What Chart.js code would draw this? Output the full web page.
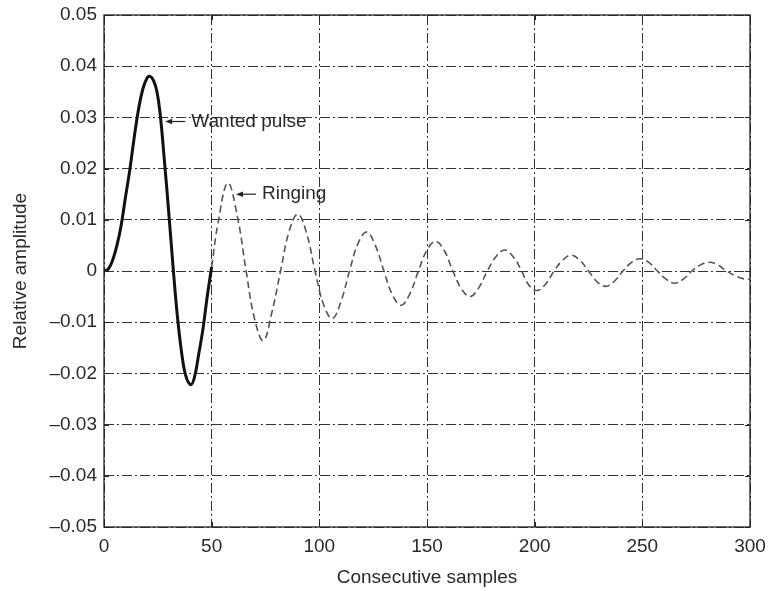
<!DOCTYPE html>
<html>
<head>
<meta charset="utf-8">
<script src="https://cdn.jsdelivr.net/npm/chart.js@4.4.1/dist/chart.umd.min.js"></script>
<style>
  html, body { margin: 0; padding: 0; background: #fff; }
  canvas { display: block; }
</style>
</head>
<body>
<canvas id="chart" width="769" height="591"></canvas>
<script>
// wanted pulse (solid), samples 0..50
const pulseX = [0, 2, 4, 6, 8, 10, 12, 14, 16, 18, 20, 21.4, 23, 24.5, 26, 28, 30, 32, 34, 36, 38, 40.3, 42, 44, 46, 48, 50];
const pulseY = [0, 0.0004, 0.0021, 0.005, 0.009, 0.0145, 0.0198, 0.026, 0.0315, 0.0355, 0.0377, 0.038, 0.0372, 0.0352, 0.031, 0.0218, 0.0118, 0.0012, -0.0085, -0.0158, -0.0205, -0.0222, -0.0208, -0.0162, -0.0112, -0.0048, 0.0008];

// ringing (dashed), samples 50..300
const ringX = [50, 53, 57.5, 62, 66, 70, 74, 78, 82, 86, 90, 94, 98, 102, 106, 110, 114, 118, 122, 126, 130, 134, 138, 142, 146, 150, 154, 158, 162, 166, 170, 174, 178, 182, 186, 190, 194, 197, 201, 205, 209, 213, 217, 221, 225, 229, 233, 237, 241, 245, 249, 253, 257, 261, 265, 269, 273, 277, 281, 285, 289, 294, 298, 300];
const ringY = [0.0008, 0.0095, 0.0172, 0.0105, 0, -0.0095, -0.0136, -0.008, 0, 0.0078, 0.0111, 0.0075, 0, -0.0066, -0.0093, -0.006, 0, 0.0054, 0.0076, 0.005, 0, -0.0047, -0.0067, -0.0045, 0, 0.0041, 0.0058, 0.004, 0, -0.0035, -0.005, -0.0033, 0, 0.0028, 0.0041, 0.0028, 0, -0.0026, -0.0038, -0.0026, 0, 0.0021, 0.0031, 0.0021, 0, -0.0021, -0.003, -0.002, 0, 0.0017, 0.0024, 0.0017, 0, -0.0016, -0.0024, -0.0016, 0, 0.0012, 0.0017, 0.0012, 0, -0.0011, -0.0016, -0.0016];

const xTicks = [0, 50, 100, 150, 200, 250, 300];
const yTicks = [-0.05, -0.04, -0.03, -0.02, -0.01, 0, 0.01, 0.02, 0.03, 0.04, 0.05];
const yTickLabels = ["\u20130.05", "\u20130.04", "\u20130.03", "\u20130.02", "\u20130.01", "0", "0.01", "0.02", "0.03", "0.04", "0.05"];

// annotations: arrow tip in data units
const notes = [
  { text: "Wanted pulse", x: 28.4, y: 0.0292, len: 20 },
  { text: "Ringing", x: 61.3, y: 0.0150, len: 20 }
];

const FONT = "'Liberation Sans', Arial, Helvetica, sans-serif";
const TEXT = "#2a2a2a";

const pts = (xs, ys) => xs.map((x, i) => ({ x: x, y: ys[i] }));

const frame = {
  id: "frame",
  afterDraw(chart) {
    const c = chart.ctx;
    const a = chart.chartArea;
    const xs = chart.scales.x, ys = chart.scales.y;
    c.save();
    c.strokeStyle = "#222";
    c.lineWidth = 1.3;
    c.setLineDash([]);
    c.strokeRect(a.left, a.top, a.right - a.left, a.bottom - a.top);
    c.lineWidth = 1;
    c.beginPath();
    xTicks.forEach(v => {
      const px = Math.round(xs.getPixelForValue(v)) + 0.5;
      c.moveTo(px, a.bottom); c.lineTo(px, a.bottom - 5);
      c.moveTo(px, a.top); c.lineTo(px, a.top + 5);
    });
    yTicks.forEach(v => {
      const py = Math.round(ys.getPixelForValue(v)) + 0.5;
      c.moveTo(a.left, py); c.lineTo(a.left + 5, py);
      c.moveTo(a.right, py); c.lineTo(a.right - 5, py);
    });
    c.stroke();

    // labels with arrows
    c.font = "19px " + FONT;
    c.textBaseline = "middle";
    c.textAlign = "left";
    notes.forEach(n => {
      const tx = xs.getPixelForValue(n.x);
      const ty = ys.getPixelForValue(n.y);
      c.strokeStyle = "#222";
      c.lineWidth = 1.2;
      c.beginPath();
      c.moveTo(tx + 4, ty); c.lineTo(tx + n.len, ty);
      c.stroke();
      c.fillStyle = "#222";
      c.beginPath();
      c.moveTo(tx, ty); c.lineTo(tx + 7, ty - 2.8); c.lineTo(tx + 7, ty + 2.8);
      c.closePath(); c.fill();
      c.fillStyle = TEXT;
      c.fillText(n.text, tx + n.len + 6, ty);
    });
    c.restore();
  }
};

new Chart(document.getElementById("chart"), {
  type: "line",
  data: {
    datasets: [
      {
        label: "Wanted pulse",
        data: pts(pulseX, pulseY),
        borderColor: "#111",
        borderWidth: 3,
        pointRadius: 0,
        tension: 0.4
      },
      {
        label: "Ringing",
        data: pts(ringX, ringY),
        borderColor: "#555",
        borderWidth: 1.6,
        borderDash: [7, 4],
        pointRadius: 0,
        tension: 0.4
      }
    ]
  },
  options: {
    responsive: false,
    animation: false,
    layout: { padding: { top: 15, right: 19, left: 0, bottom: 0 } },
    plugins: { legend: { display: false }, tooltip: { enabled: false } },
    scales: {
      x: {
        type: "linear",
        min: 0, max: 300,
        afterBuildTicks: s => { s.ticks = xTicks.map(v => ({ value: v })); },
        afterFit: s => { s.height = 64; s.paddingLeft = 0; s.paddingRight = 0; },
        ticks: { color: TEXT, font: { family: FONT, size: 19 }, padding: 8, maxRotation: 0 },
        grid: { color: "#333", lineWidth: 1, drawTicks: false },
        border: { display: false, dash: [10, 3, 2, 3] },
        title: { display: true, text: "Consecutive samples", color: TEXT, font: { family: FONT, size: 19 }, padding: { top: 0, bottom: 2 } }
      },
      y: {
        min: -0.05, max: 0.05,
        afterBuildTicks: s => { s.ticks = yTicks.map(v => ({ value: v })); },
        afterFit: s => { s.width = 104; s.paddingTop = 0; s.paddingBottom = 0; },
        ticks: { color: TEXT, font: { family: FONT, size: 19 }, padding: 7, callback: (v, i) => yTickLabels[i] },
        grid: { color: "#333", lineWidth: 1, drawTicks: false },
        border: { display: false, dash: [10, 3, 2, 3] },
        title: { display: true, text: "Relative amplitude", color: TEXT, font: { family: FONT, size: 19 }, padding: { top: 9, bottom: 0 } }
      }
    }
  },
  plugins: [frame]
});
</script>
</body>
</html>
